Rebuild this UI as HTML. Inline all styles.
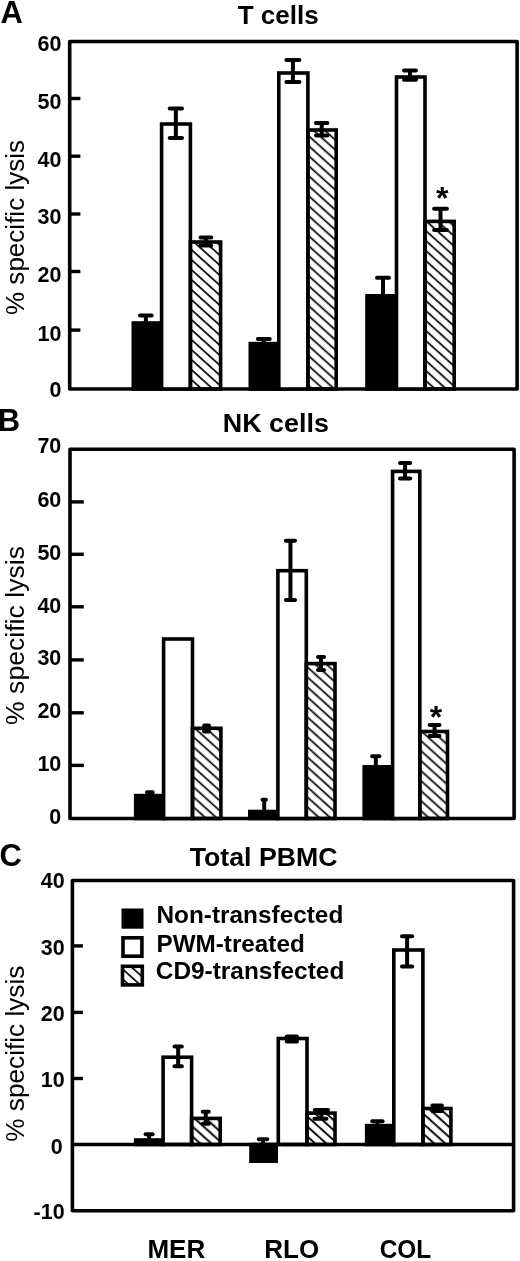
<!DOCTYPE html><html><head><meta charset="utf-8"><style>html,body{margin:0;padding:0;background:#fff;}svg{display:block;filter:grayscale(1);}text{font-family:"Liberation Sans",sans-serif;fill:#000;}</style></head><body>
<svg width="520" height="1261" viewBox="0 0 520 1261">
<defs><pattern id="hat" width="30" height="7.43" patternUnits="userSpaceOnUse" patternTransform="rotate(42)"><rect x="0" y="5.73" width="30" height="1.7" fill="#000"/></pattern><pattern id="hA1" width="30" height="7.43" patternUnits="userSpaceOnUse" patternTransform="rotate(42)"><rect x="0" y="4.61" width="30" height="1.7" fill="#000"/></pattern><pattern id="hA2" width="30" height="7.43" patternUnits="userSpaceOnUse" patternTransform="rotate(42)"><rect x="0" y="5.06" width="30" height="1.7" fill="#000"/></pattern><pattern id="hA3" width="30" height="7.43" patternUnits="userSpaceOnUse" patternTransform="rotate(42)"><rect x="0" y="4.50" width="30" height="1.7" fill="#000"/></pattern><pattern id="hB1" width="30" height="7.43" patternUnits="userSpaceOnUse" patternTransform="rotate(42)"><rect x="0" y="1.35" width="30" height="1.7" fill="#000"/></pattern><pattern id="hB2" width="30" height="7.43" patternUnits="userSpaceOnUse" patternTransform="rotate(42)"><rect x="0" y="-0.51" width="30" height="1.7" fill="#000"/><rect x="0" y="6.92" width="30" height="1.7" fill="#000"/></pattern><pattern id="hB3" width="30" height="7.43" patternUnits="userSpaceOnUse" patternTransform="rotate(42)"><rect x="0" y="0.53" width="30" height="1.7" fill="#000"/></pattern><pattern id="hC1" width="30" height="7.43" patternUnits="userSpaceOnUse" patternTransform="rotate(42)"><rect x="0" y="1.55" width="30" height="1.9" fill="#000"/></pattern><pattern id="hC2" width="30" height="7.43" patternUnits="userSpaceOnUse" patternTransform="rotate(42)"><rect x="0" y="6.37" width="30" height="1.9" fill="#000"/><rect x="0" y="-1.06" width="30" height="1.9" fill="#000"/></pattern><pattern id="hC3" width="30" height="7.43" patternUnits="userSpaceOnUse" patternTransform="rotate(42)"><rect x="0" y="1.10" width="30" height="1.9" fill="#000"/></pattern></defs>
<rect x="0" y="0" width="520" height="1261" fill="#fff"/>
<g stroke="#000" fill="none">
</g>
<g stroke="#000" fill="none">
<rect x="69.7" y="41.5" width="447.4" height="347.5" stroke-width="3.6" stroke-linejoin="round"/>
<line x1="69.7" y1="98.5" x2="80.4" y2="98.5" stroke-width="3.4" stroke-linecap="butt"/>
<line x1="69.7" y1="156.2" x2="80.4" y2="156.2" stroke-width="3.4" stroke-linecap="butt"/>
<line x1="69.7" y1="214" x2="80.4" y2="214" stroke-width="3.4" stroke-linecap="butt"/>
<line x1="69.7" y1="271.5" x2="80.4" y2="271.5" stroke-width="3.4" stroke-linecap="butt"/>
<line x1="69.7" y1="330.1" x2="80.4" y2="330.1" stroke-width="3.4" stroke-linecap="butt"/>
<rect x="133.3" y="323.0" width="28.3" height="66.0" fill="#000" stroke-width="3.6"/>
<rect x="161.6" y="124.0" width="28.8" height="265.0" fill="#fff" stroke-width="3.6"/>
<rect x="190.4" y="242.0" width="30.2" height="147.0" fill="url(#hA1)" stroke-width="3.6"/>
<rect x="250.3" y="343.6" width="28.5" height="45.4" fill="#000" stroke-width="3.6"/>
<rect x="278.8" y="73.0" width="29.1" height="316.0" fill="#fff" stroke-width="3.6"/>
<rect x="307.9" y="130.0" width="28.3" height="259.0" fill="url(#hA2)" stroke-width="3.6"/>
<rect x="367.0" y="295.8" width="29.5" height="93.2" fill="#000" stroke-width="3.6"/>
<rect x="396.5" y="77.0" width="28.5" height="312.0" fill="#fff" stroke-width="3.6"/>
<rect x="425.0" y="221.4" width="29.2" height="167.6" fill="url(#hA3)" stroke-width="3.6"/>
<line x1="145.85" y1="315.5" x2="145.85" y2="323.0" stroke-width="4.0" stroke-linecap="butt"/>
<line x1="140.0" y1="315.5" x2="151.7" y2="315.5" stroke-width="4.0" stroke-linecap="round"/>
<line x1="175.85" y1="108.5" x2="175.85" y2="138.0" stroke-width="4.0" stroke-linecap="butt"/>
<line x1="169.7" y1="108.5" x2="182.0" y2="108.5" stroke-width="4.0" stroke-linecap="round"/>
<line x1="169.7" y1="138.0" x2="182.0" y2="138.0" stroke-width="4.0" stroke-linecap="round"/>
<line x1="205.85" y1="237.5" x2="205.85" y2="245.5" stroke-width="4.0" stroke-linecap="butt"/>
<line x1="200.5" y1="237.5" x2="211.2" y2="237.5" stroke-width="4.0" stroke-linecap="round"/>
<line x1="200.5" y1="245.5" x2="211.2" y2="245.5" stroke-width="4.0" stroke-linecap="round"/>
<line x1="263.8" y1="339.0" x2="263.8" y2="343.6" stroke-width="4.0" stroke-linecap="butt"/>
<line x1="257.9" y1="339.0" x2="269.7" y2="339.0" stroke-width="4.0" stroke-linecap="round"/>
<line x1="292.9" y1="60.0" x2="292.9" y2="82.0" stroke-width="4.0" stroke-linecap="butt"/>
<line x1="286.4" y1="60.0" x2="299.4" y2="60.0" stroke-width="4.0" stroke-linecap="round"/>
<line x1="286.4" y1="82.0" x2="299.4" y2="82.0" stroke-width="4.0" stroke-linecap="round"/>
<line x1="321.7" y1="123.0" x2="321.7" y2="135.6" stroke-width="4.0" stroke-linecap="butt"/>
<line x1="316.0" y1="123.0" x2="327.4" y2="123.0" stroke-width="4.0" stroke-linecap="round"/>
<line x1="316.0" y1="135.6" x2="327.4" y2="135.6" stroke-width="4.0" stroke-linecap="round"/>
<line x1="383.0" y1="277.7" x2="383.0" y2="295.8" stroke-width="4.0" stroke-linecap="butt"/>
<line x1="377.0" y1="277.7" x2="389.0" y2="277.7" stroke-width="4.0" stroke-linecap="round"/>
<line x1="410.0" y1="70.6" x2="410.0" y2="79.8" stroke-width="4.0" stroke-linecap="butt"/>
<line x1="404.0" y1="70.6" x2="416.0" y2="70.6" stroke-width="4.0" stroke-linecap="round"/>
<line x1="404.0" y1="79.8" x2="416.0" y2="79.8" stroke-width="4.0" stroke-linecap="round"/>
<line x1="440.5" y1="208.8" x2="440.5" y2="230.0" stroke-width="4.0" stroke-linecap="butt"/>
<line x1="434.1" y1="208.8" x2="446.9" y2="208.8" stroke-width="4.0" stroke-linecap="round"/>
<line x1="434.1" y1="230.0" x2="446.9" y2="230.0" stroke-width="4.0" stroke-linecap="round"/>
<rect x="70.0" y="449.2" width="444.1" height="369.3" stroke-width="3.6" stroke-linejoin="round"/>
<line x1="70.0" y1="501.9" x2="83.8" y2="501.9" stroke-width="3.4" stroke-linecap="butt"/>
<line x1="70.0" y1="554.3" x2="83.8" y2="554.3" stroke-width="3.4" stroke-linecap="butt"/>
<line x1="70.0" y1="606.8" x2="83.8" y2="606.8" stroke-width="3.4" stroke-linecap="butt"/>
<line x1="70.0" y1="659.9" x2="83.8" y2="659.9" stroke-width="3.4" stroke-linecap="butt"/>
<line x1="70.0" y1="712.8" x2="83.8" y2="712.8" stroke-width="3.4" stroke-linecap="butt"/>
<line x1="70.0" y1="765.4" x2="83.8" y2="765.4" stroke-width="3.4" stroke-linecap="butt"/>
<rect x="135.7" y="795.6" width="27.9" height="22.9" fill="#000" stroke-width="3.6"/>
<rect x="163.6" y="639.0" width="28.9" height="179.5" fill="#fff" stroke-width="3.6"/>
<rect x="192.5" y="728.3" width="28.4" height="90.2" fill="url(#hB1)" stroke-width="3.6"/>
<rect x="249.8" y="811.5" width="28.1" height="7.0" fill="#000" stroke-width="3.6"/>
<rect x="277.9" y="570.7" width="28.4" height="247.8" fill="#fff" stroke-width="3.6"/>
<rect x="306.3" y="663.6" width="28.7" height="154.9" fill="url(#hB2)" stroke-width="3.6"/>
<rect x="364.2" y="766.8" width="28.4" height="51.7" fill="#000" stroke-width="3.6"/>
<rect x="392.6" y="471.4" width="27.2" height="347.1" fill="#fff" stroke-width="3.6"/>
<rect x="419.8" y="731.5" width="27.7" height="87.0" fill="url(#hB3)" stroke-width="3.6"/>
<line x1="149.8" y1="792.3" x2="149.8" y2="795.6" stroke-width="4.0" stroke-linecap="butt"/>
<line x1="147.0" y1="792.3" x2="152.6" y2="792.3" stroke-width="4.0" stroke-linecap="round"/>
<rect x="202.2" y="723.5" width="8.7" height="10" rx="2" fill="#000" stroke="none"/>
<line x1="264.2" y1="799.7" x2="264.2" y2="811.5" stroke-width="4.0" stroke-linecap="butt"/>
<line x1="262.5" y1="799.7" x2="265.9" y2="799.7" stroke-width="4.0" stroke-linecap="round"/>
<line x1="290.45" y1="540.7" x2="290.45" y2="600.0" stroke-width="4.0" stroke-linecap="butt"/>
<line x1="285.9" y1="540.7" x2="295.0" y2="540.7" stroke-width="4.0" stroke-linecap="round"/>
<line x1="285.9" y1="600.0" x2="295.0" y2="600.0" stroke-width="4.0" stroke-linecap="round"/>
<line x1="321.0" y1="657.0" x2="321.0" y2="670.0" stroke-width="4.0" stroke-linecap="butt"/>
<line x1="318.0" y1="657.0" x2="324.0" y2="657.0" stroke-width="4.0" stroke-linecap="round"/>
<line x1="318.0" y1="670.0" x2="324.0" y2="670.0" stroke-width="4.0" stroke-linecap="round"/>
<line x1="375.79999999999995" y1="756.2" x2="375.79999999999995" y2="766.8" stroke-width="4.0" stroke-linecap="butt"/>
<line x1="372.2" y1="756.2" x2="379.4" y2="756.2" stroke-width="4.0" stroke-linecap="round"/>
<line x1="405.1" y1="463.0" x2="405.1" y2="478.5" stroke-width="4.0" stroke-linecap="butt"/>
<line x1="400.0" y1="463.0" x2="410.2" y2="463.0" stroke-width="4.0" stroke-linecap="round"/>
<line x1="400.0" y1="478.5" x2="410.2" y2="478.5" stroke-width="4.0" stroke-linecap="round"/>
<line x1="434.55" y1="725.0" x2="434.55" y2="736.0" stroke-width="4.0" stroke-linecap="butt"/>
<line x1="429.6" y1="725.0" x2="439.5" y2="725.0" stroke-width="4.0" stroke-linecap="round"/>
<line x1="429.6" y1="736.0" x2="439.5" y2="736.0" stroke-width="4.0" stroke-linecap="round"/>
<rect x="72.4" y="880.5" width="441.2" height="330.3" stroke-width="3.6" stroke-linejoin="round"/>
<line x1="72.4" y1="945.9" x2="82.9" y2="945.9" stroke-width="3.4" stroke-linecap="butt"/>
<line x1="72.4" y1="1012.4" x2="82.9" y2="1012.4" stroke-width="3.4" stroke-linecap="butt"/>
<line x1="72.4" y1="1078.5" x2="82.9" y2="1078.5" stroke-width="3.4" stroke-linecap="butt"/>
<rect x="135.7" y="1140.0" width="27.4" height="4.5" fill="#000" stroke-width="3.6"/>
<rect x="163.1" y="1057.2" width="28.5" height="87.3" fill="#fff" stroke-width="3.6"/>
<rect x="191.6" y="1118.4" width="28.6" height="26.1" fill="url(#hC1)" stroke-width="3.6"/>
<rect x="251.3" y="1144.5" width="27.0" height="16.7" fill="#000" stroke-width="3.6"/>
<rect x="278.3" y="1038.5" width="28.7" height="106.0" fill="#fff" stroke-width="3.6"/>
<rect x="307.0" y="1113.1" width="28.0" height="31.4" fill="url(#hC2)" stroke-width="3.6"/>
<rect x="251.2" y="1146" width="25.2" height="15.2" fill="#000" stroke-width="3.6"/>
<rect x="278.0" y="1146.2" width="3" height="18" fill="#fff" stroke="none"/>
<rect x="366.7" y="1125.6" width="27.1" height="18.9" fill="#000" stroke-width="3.6"/>
<rect x="393.8" y="950.0" width="29.1" height="194.5" fill="#fff" stroke-width="3.6"/>
<rect x="422.9" y="1108.5" width="28.0" height="36.0" fill="url(#hC3)" stroke-width="3.6"/>
<line x1="72.4" y1="1144.5" x2="513.6" y2="1144.5" stroke-width="3.6" stroke-linecap="butt"/>
<line x1="149.1" y1="1134.2" x2="149.1" y2="1140.0" stroke-width="4.0" stroke-linecap="butt"/>
<line x1="145.6" y1="1134.2" x2="152.6" y2="1134.2" stroke-width="4.0" stroke-linecap="round"/>
<line x1="178.15" y1="1046.5" x2="178.15" y2="1066.2" stroke-width="4.0" stroke-linecap="butt"/>
<line x1="174.5" y1="1046.5" x2="181.8" y2="1046.5" stroke-width="4.0" stroke-linecap="round"/>
<line x1="174.5" y1="1066.2" x2="181.8" y2="1066.2" stroke-width="4.0" stroke-linecap="round"/>
<line x1="205.75" y1="1111.7" x2="205.75" y2="1123.8" stroke-width="4.0" stroke-linecap="butt"/>
<line x1="202.8" y1="1111.7" x2="208.7" y2="1111.7" stroke-width="4.0" stroke-linecap="round"/>
<line x1="202.8" y1="1123.8" x2="208.7" y2="1123.8" stroke-width="4.0" stroke-linecap="round"/>
<line x1="263.04999999999995" y1="1139.2" x2="263.04999999999995" y2="1144.5" stroke-width="4.0" stroke-linecap="butt"/>
<line x1="258.9" y1="1139.2" x2="267.2" y2="1139.2" stroke-width="4.0" stroke-linecap="round"/>
<line x1="291.875" y1="1036.4" x2="291.875" y2="1041.5" stroke-width="4.0" stroke-linecap="butt"/>
<line x1="286.75" y1="1036.4" x2="297.0" y2="1036.4" stroke-width="4.0" stroke-linecap="round"/>
<line x1="286.75" y1="1041.5" x2="297.0" y2="1041.5" stroke-width="4.0" stroke-linecap="round"/>
<line x1="321.4" y1="1110.0" x2="321.4" y2="1118.8" stroke-width="4.0" stroke-linecap="butt"/>
<line x1="314.8" y1="1110.0" x2="328.0" y2="1110.0" stroke-width="4.0" stroke-linecap="round"/>
<line x1="314.4" y1="1118.8" x2="326.4" y2="1118.8" stroke-width="4.0" stroke-linecap="round"/>
<line x1="377.4" y1="1121.2" x2="377.4" y2="1125.6" stroke-width="4.0" stroke-linecap="butt"/>
<line x1="372.2" y1="1121.2" x2="382.6" y2="1121.2" stroke-width="4.0" stroke-linecap="round"/>
<line x1="407.1" y1="936.3" x2="407.1" y2="966.4" stroke-width="4.0" stroke-linecap="butt"/>
<line x1="402.0" y1="936.3" x2="412.2" y2="936.3" stroke-width="4.0" stroke-linecap="round"/>
<line x1="402.0" y1="966.4" x2="412.2" y2="966.4" stroke-width="4.0" stroke-linecap="round"/>
<line x1="437.15" y1="1105.4" x2="437.15" y2="1111.0" stroke-width="4.0" stroke-linecap="butt"/>
<line x1="432.4" y1="1105.4" x2="441.9" y2="1105.4" stroke-width="4.0" stroke-linecap="round"/>
<line x1="432.4" y1="1111.0" x2="441.9" y2="1111.0" stroke-width="4.0" stroke-linecap="round"/>
<rect x="123.3" y="910.3" width="18.4" height="16.6" fill="#000" stroke-width="3.6"/>
<rect x="123" y="937.8" width="18.9" height="18.4" fill="#fff" stroke-width="3.6"/>
<rect x="122.5" y="966.3" width="19.8" height="18.6" fill="url(#hat)" stroke-width="3.6"/>
</g>
<g>
<text x="0.5" y="23" font-size="31" font-weight="bold" text-anchor="start">A</text>
<text x="-2.3" y="431" font-size="31" font-weight="bold" text-anchor="start">B</text>
<text x="-0.5" y="866" font-size="31" font-weight="bold" text-anchor="start">C</text>
<text x="237.7" y="23.5" font-size="26" font-weight="bold" text-anchor="start" textLength="81" lengthAdjust="spacingAndGlyphs">T cells</text>
<text x="222.75" y="431.7" font-size="26" font-weight="bold" text-anchor="start" textLength="106.25" lengthAdjust="spacingAndGlyphs">NK cells</text>
<text x="189.7" y="865.6" font-size="26" font-weight="bold" text-anchor="start" textLength="147.8" lengthAdjust="spacingAndGlyphs">Total PBMC</text>
<text x="61.5" y="50.7" font-size="21.5" font-weight="bold" text-anchor="end">60</text>
<text x="61.5" y="108.6" font-size="21.5" font-weight="bold" text-anchor="end">50</text>
<text x="61.5" y="167.2" font-size="21.5" font-weight="bold" text-anchor="end">40</text>
<text x="61.5" y="224.2" font-size="21.5" font-weight="bold" text-anchor="end">30</text>
<text x="61.5" y="282.1" font-size="21.5" font-weight="bold" text-anchor="end">20</text>
<text x="61.5" y="340.7" font-size="21.5" font-weight="bold" text-anchor="end">10</text>
<text x="61.5" y="396.7" font-size="21.5" font-weight="bold" text-anchor="end">0</text>
<text x="61.3" y="453.4" font-size="21.5" font-weight="bold" text-anchor="end">70</text>
<text x="61.3" y="506.5" font-size="21.5" font-weight="bold" text-anchor="end">60</text>
<text x="61.3" y="559.7" font-size="21.5" font-weight="bold" text-anchor="end">50</text>
<text x="61.3" y="612.7" font-size="21.5" font-weight="bold" text-anchor="end">40</text>
<text x="61.3" y="664.5" font-size="21.5" font-weight="bold" text-anchor="end">30</text>
<text x="61.3" y="717.9" font-size="21.5" font-weight="bold" text-anchor="end">20</text>
<text x="61.3" y="771.1" font-size="21.5" font-weight="bold" text-anchor="end">10</text>
<text x="61.3" y="823.7" font-size="21.5" font-weight="bold" text-anchor="end">0</text>
<text x="64.6" y="888.2" font-size="21.5" font-weight="bold" text-anchor="end">40</text>
<text x="64.6" y="954.8" font-size="21.5" font-weight="bold" text-anchor="end">30</text>
<text x="64.6" y="1020.9" font-size="21.5" font-weight="bold" text-anchor="end">20</text>
<text x="64.6" y="1087.1" font-size="21.5" font-weight="bold" text-anchor="end">10</text>
<text x="62.7" y="1153.7" font-size="21.5" font-weight="bold" text-anchor="end">0</text>
<text x="64.6" y="1219.2" font-size="21.5" font-weight="bold" text-anchor="end">-10</text>
<text x="0" y="0" font-size="26" font-weight="normal" text-anchor="middle" textLength="175" lengthAdjust="spacingAndGlyphs" transform="translate(23.8,227.5) rotate(-90)">% specific lysis</text>
<text x="0" y="0" font-size="26" font-weight="normal" text-anchor="middle" textLength="179" lengthAdjust="spacingAndGlyphs" transform="translate(23.8,635.5) rotate(-90)">% specific lysis</text>
<text x="0" y="0" font-size="26" font-weight="normal" text-anchor="middle" textLength="176" lengthAdjust="spacingAndGlyphs" transform="translate(23.8,1053.7) rotate(-90)">% specific lysis</text>
<text x="442.3" y="208.8" font-size="32" font-weight="bold" text-anchor="middle">*</text>
<text x="436.0" y="727.8" font-size="32" font-weight="bold" text-anchor="middle">*</text>
<text x="156.5" y="923.3" font-size="23" font-weight="bold" text-anchor="start" textLength="186.8" lengthAdjust="spacingAndGlyphs">Non-transfected</text>
<text x="156.5" y="951.5" font-size="23" font-weight="bold" text-anchor="start" textLength="148.2" lengthAdjust="spacingAndGlyphs">PWM-treated</text>
<text x="155.8" y="978.8" font-size="23" font-weight="bold" text-anchor="start" textLength="188.5" lengthAdjust="spacingAndGlyphs">CD9-transfected</text>
<text x="176.3" y="1257.7" font-size="26" font-weight="bold" text-anchor="middle">MER</text>
<text x="291.7" y="1257.7" font-size="26" font-weight="bold" text-anchor="middle">RLO</text>
<text x="405.4" y="1257.7" font-size="26" font-weight="bold" text-anchor="middle" textLength="51.5" lengthAdjust="spacingAndGlyphs">COL</text>
</g>
</svg></body></html>
